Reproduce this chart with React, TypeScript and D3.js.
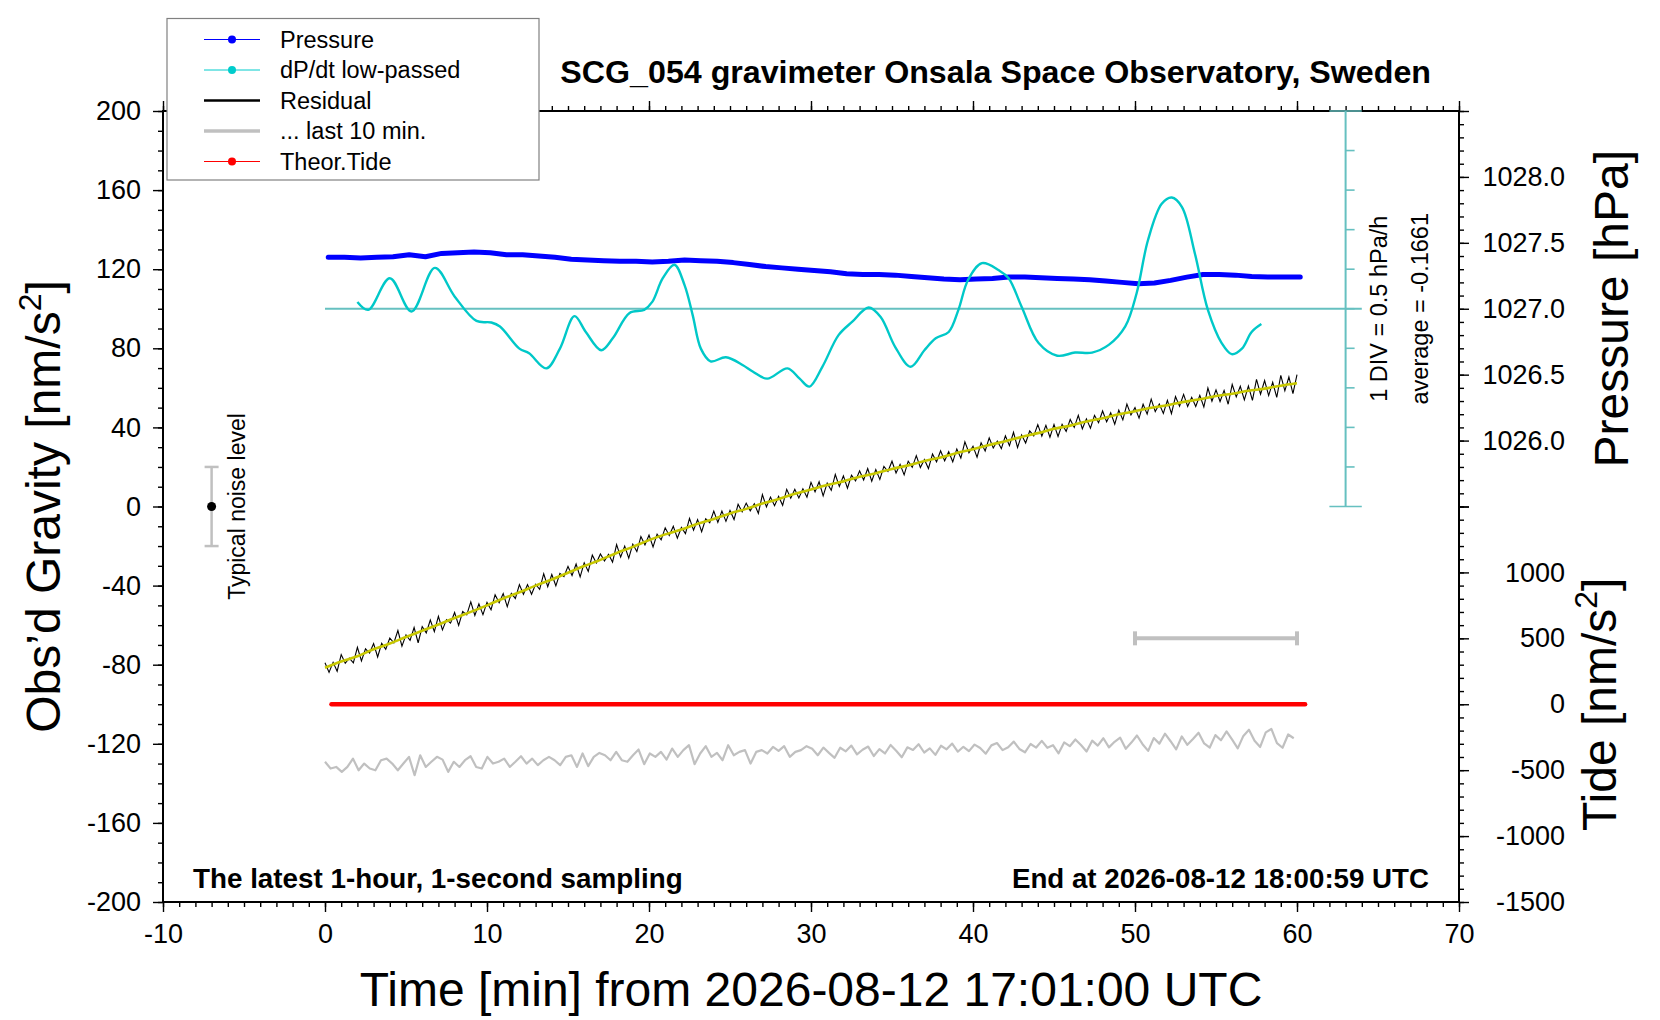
import { useEffect, useRef } from "react";
import * as d3 from "d3";

const FONT = "'Liberation Sans', Arial, Helvetica, sans-serif";

// axis ticks
const X_MAJOR = [-10, 0, 10, 20, 30, 40, 50, 60, 70];
const G_MAJOR = [-200, -160, -120, -80, -40, 0, 40, 80, 120, 160, 200];
const P_MAJOR = [1025.5, 1026.0, 1026.5, 1027.0, 1027.5, 1028.0, 1028.5];
const P_LABELS = [1026.0, 1026.5, 1027.0, 1027.5, 1028.0];
const TIDE_MAJOR = [-1500, -1000, -500, 0, 500, 1000, 1500];
const TIDE_LABELS = [-1500, -1000, -500, 0, 500, 1000];
const DPDT_AVG = -0.1661;

// pressure [hPa], one value per minute
const PRESSURE = [
  1027.39, 1027.39, 1027.385, 1027.39, 1027.395, 1027.41, 1027.395, 1027.42, 1027.425, 1027.43,
  1027.425, 1027.41, 1027.41, 1027.4, 1027.39, 1027.375, 1027.37, 1027.365, 1027.36, 1027.36,
  1027.355, 1027.36, 1027.37, 1027.365, 1027.36, 1027.35, 1027.335, 1027.32, 1027.31, 1027.3,
  1027.29, 1027.28, 1027.265, 1027.26, 1027.26, 1027.255, 1027.245, 1027.235, 1027.225, 1027.22,
  1027.225, 1027.23, 1027.24, 1027.24, 1027.235, 1027.23, 1027.225, 1027.22, 1027.21, 1027.2,
  1027.19, 1027.195, 1027.215, 1027.24, 1027.26, 1027.26, 1027.255, 1027.245, 1027.24, 1027.24,
  1027.24,
];

// dP/dt low-passed [hPa/h]
const DPDT_T = [
  2.0, 2.67, 4.0, 5.34, 6.78, 8.0, 9.35, 10.27, 10.8, 12.0, 12.6, 13.66, 14.5, 15.4, 16.1, 17.05,
  17.76, 18.8, 19.7, 20.2, 20.85, 21.57, 22.2, 22.7, 23.2, 23.8, 24.75, 25.8, 26.4, 27.3, 28.55,
  29.3, 29.9, 30.7, 31.7, 32.55, 33.55, 34.3, 35.2, 36.15, 37.0, 37.7, 38.5, 39.1, 39.7, 40.55,
  41.6, 42.2, 43.0, 44.05, 45.2, 46.3, 47.35, 48.4, 49.4, 50.1, 50.8, 51.65, 52.27, 52.9, 53.7,
  54.5, 55.35, 55.97, 56.6, 57.2, 57.8,
];
const DPDT = [
  -0.08, -0.18, 0.22, -0.2, 0.35, -0.01, -0.32, -0.34, -0.39, -0.67, -0.73, -0.92, -0.67, -0.26,
  -0.46, -0.69, -0.54, -0.22, -0.18, -0.08, 0.22, 0.39, 0.13, -0.25, -0.67, -0.83, -0.78, -0.88,
  -0.96, -1.05, -0.92, -1.05, -1.15, -0.9, -0.5, -0.33, -0.15, -0.27, -0.65, -0.9, -0.69, -0.54,
  -0.46, -0.18, 0.2, 0.41, 0.32, 0.22, -0.14, -0.6, -0.76, -0.72, -0.72, -0.62, -0.39, 0.03, 0.7,
  1.16, 1.24, 1.12, 0.53, -0.18, -0.6, -0.74, -0.67, -0.46, -0.36,
];

// residual gravity [nm/s^2], every 15 s
const RESIDUAL = [
  -79.0, -83.9, -78.8, -83.3, -74.9, -79.3, -76.7, -79.1, -71.2, -78.1, -72.0, -74.1,
  -69.3, -76.1, -69.2, -72.2, -66.5, -69.0, -62.7, -70.6, -64.9, -67.7, -61.2, -68.9,
  -60.7, -63.9, -57.4, -63.3, -55.5, -62.4, -57.2, -59.0, -53.6, -60.1, -53.1, -54.8,
  -48.2, -55.1, -49.2, -54.7, -48.5, -52.2, -44.6, -48.7, -44.0, -50.6, -43.9, -46.5,
  -39.5, -44.4, -39.5, -44.4, -39.3, -41.9, -34.0, -40.6, -34.4, -40.1, -33.8, -35.4,
  -30.3, -34.9, -29.1, -35.6, -28.5, -32.8, -24.6, -28.6, -24.0, -27.5, -24.2, -28.1,
  -19.3, -25.6, -20.0, -26.1, -19.0, -22.8, -15.2, -19.4, -14.5, -20.5, -14.0, -16.9,
  -10.8, -14.7, -10.0, -16.0, -10.6, -13.7, -6.0, -12.0, -6.6, -12.7, -6.2, -8.2,
  -2.3, -8.0, -2.3, -7.5, -2.0, -6.6, 1.1, -2.7, 1.7, -2.2, 1.4, -3.5,
  6.0, -0.2, 4.8, 0.4, 5.1, 0.6, 8.7, 4.2, 8.7, 4.3, 9.0, 4.7,
  12.2, 7.4, 12.5, 5.4, 11.8, 8.2, 16.2, 10.2, 15.5, 9.3, 15.8, 13.0,
  18.0, 13.4, 19.2, 12.8, 18.7, 13.7, 20.3, 17.7, 22.9, 16.9, 21.3, 16.0,
  22.9, 19.8, 25.7, 19.7, 23.8, 19.2, 26.5, 22.6, 28.2, 23.1, 27.7, 22.6,
  29.1, 24.5, 32.7, 27.2, 30.5, 24.9, 32.2, 28.1, 34.7, 29.6, 33.1, 29.3,
  35.7, 30.8, 37.5, 29.8, 36.2, 32.1, 38.2, 35.7, 41.4, 35.6, 41.0, 35.0,
  41.5, 35.4, 41.6, 38.0, 44.0, 40.0, 46.1, 39.3, 44.3, 39.6, 46.1, 42.4,
  48.3, 42.8, 47.4, 41.6, 48.7, 43.8, 51.8, 46.3, 50.0, 44.7, 51.7, 46.7,
  54.3, 48.0, 51.8, 47.1, 53.7, 47.0, 55.6, 50.7, 56.7, 50.6, 55.2, 50.6,
  56.2, 50.3, 59.9, 53.2, 59.0, 53.1, 58.7, 51.7, 61.7, 55.4, 60.8, 53.9,
  60.9, 53.7, 64.3, 56.8, 63.7, 56.1, 62.8, 55.2, 66.3, 58.5, 65.5, 57.1,
  66.7,
];

// smoothed residual (yellow), one value per minute
const SMOOTH = [
  -81.5, -78.4, -75.7, -72.2, -69.3, -66.0, -62.8, -59.7, -56.4, -53.3, -50.0, -46.5, -43.4,
  -40.0, -36.9, -33.5, -30.1, -27.0, -23.5, -20.4, -17.0, -14.1, -11.6, -8.7, -6.3, -3.5, -1.2,
  1.5, 3.8, 6.4, 8.6, 10.9, 12.7, 15.0, 16.8, 19.0, 20.8, 23.0, 24.8, 27.1, 28.9, 31.1, 33.0,
  35.2, 37.1, 39.3, 40.9, 43.0, 44.6, 46.6, 48.2, 49.9, 51.2, 52.9, 54.2, 55.9, 57.0, 58.5,
  59.6, 61.1, 62.3,
];

// last 10 minutes, stretched over the hour (gravity units)
const LAST10 = [
  -129.1, -132.5, -131.7, -134.2, -131.7, -127.5, -133.4, -130.0, -132.5, -133.4, -128.3, -127.5,
  -130.0, -133.4, -130.0, -126.6, -135.9, -125.8, -131.7, -129.1, -126.6, -128.0, -134.2, -129.1,
  -131.7, -128.3, -126.3, -131.7, -132.5, -126.6, -130.0, -129.1, -127.5, -131.7, -129.1, -126.3,
  -130.0, -127.5, -130.8, -128.3, -126.6, -128.3, -130.8, -126.6, -125.8, -131.7, -124.9, -131.3,
  -126.6, -124.6, -125.8, -128.3, -124.1, -128.3, -129.1, -125.8, -122.9, -130.3, -124.9, -126.6,
  -124.1, -128.0, -122.4, -126.6, -123.2, -120.7, -130.3, -124.9, -121.2, -126.6, -124.6, -128.3,
  -120.7, -125.8, -124.1, -123.2, -130.0, -124.1, -123.2, -124.9, -121.6, -123.6, -121.2, -126.6,
  -124.1, -123.2, -121.2,
  -122.5, -125.8, -121.9, -124.6, -127.1, -122.0, -123.8, -120.9, -125.3, -123.0, -121.4, -126.2,
  -122.7, -124.9, -120.6, -123.5, -126.8, -121.8, -123.1, -120.2, -124.4, -122.3, -125.6, -121.0,
  -122.8, -119.9, -124.0, -121.5,
  -123.7, -120.4, -122.1, -125.0, -120.8, -119.6, -123.2, -121.7, -118.9, -122.6, -124.3, -120.1,
  -121.9, -118.5, -122.0, -120.7, -124.8, -119.3, -121.2, -117.8, -120.6, -123.9, -118.4, -120.9,
  -117.2, -121.8, -119.0, -116.9, -122.5,
  -119.4, -115.8, -120.2, -123.6, -117.1, -119.9, -114.9, -118.7, -122.8, -116.3, -120.5, -117.6,
  -114.4, -119.8, -121.9, -115.6, -118.2, -113.7, -117.9, -122.3, -116.0, -112.9, -118.5, -121.6,
  -114.2, -112.5, -119.7, -122.0, -115.3, -117.2,
];

// theoretical tide [nm/s^2]
const TIDE_T = [0.4, 10, 20, 30, 40, 50, 60.5];
const TIDE = [0, 0, 0, 0, 0, 0, 0];

const LEGEND = [
  { label: "Pressure", color: "#0000ff", kind: "dot" },
  { label: "dP/dt low-passed", color: "#00cccc", kind: "dot" },
  { label: "Residual", color: "#000000", kind: "line" },
  { label: "... last 10 min.", color: "#c0c0c0", kind: "line" },
  { label: "Theor.Tide", color: "#ff0000", kind: "dot" },
];

export default function App() {
  const svgRef = useRef<SVGSVGElement>(null);

  useEffect(() => {
    if (!svgRef.current) return;
    const svg = d3.select(svgRef.current);
    svg.selectAll("*").remove();

    const L = 163, R = 1459, T = 111, B = 902;
    const M = (T + B) / 2;

    const x = d3.scaleLinear().domain([-10, 70]).range([L, R]);
    const yG = d3.scaleLinear().domain([-200, 200]).range([B, T]);
    const yP = d3.scaleLinear().domain([1025.5, 1028.5]).range([M, T]);
    const yT = d3.scaleLinear().domain([-1500, 1500]).range([B, M]);
    const yD = d3.scaleLinear().domain([DPDT_AVG - 2.5, DPDT_AVG + 2.5]).range([M, T]);

    svg.append("rect").attr("width", 1660).attr("height", 1020).attr("fill", "#fff");

    const styleAxis = (g: any, labelled: boolean) => {
      g.select(".domain").remove();
      g.selectAll(".tick line").attr("stroke", "#000").attr("stroke-width", 1.4);
      if (labelled) {
        g.selectAll(".tick text")
          .attr("fill", "#000")
          .attr("font-family", FONT)
          .attr("font-size", 27);
      }
    };

    const xMinor = d3.range(-10, 71, 1);
    const gMinor = d3.range(-200, 201, 10);
    const pMinor = d3.range(0, 31).map((i) => 1025.5 + i * 0.1);
    const tMinor = d3.range(-1500, 1501, 100);

    // bottom axis
    svg.append("g").attr("transform", `translate(0,${B})`)
      .call(d3.axisBottom(x).tickValues(xMinor).tickSize(5).tickFormat(() => ""))
      .call((g) => styleAxis(g, false));
    svg.append("g").attr("transform", `translate(0,${B})`)
      .call(d3.axisBottom(x).tickValues(X_MAJOR).tickSize(10).tickPadding(12).tickFormat((d) => `${d}`))
      .call((g) => styleAxis(g, true));

    // top axis
    svg.append("g").attr("transform", `translate(0,${T})`)
      .call(d3.axisTop(x).tickValues(xMinor).tickSize(5).tickFormat(() => ""))
      .call((g) => styleAxis(g, false));
    svg.append("g").attr("transform", `translate(0,${T})`)
      .call(d3.axisTop(x).tickValues(X_MAJOR).tickSize(10).tickFormat(() => ""))
      .call((g) => styleAxis(g, false));

    // left axis
    svg.append("g").attr("transform", `translate(${L},0)`)
      .call(d3.axisLeft(yG).tickValues(gMinor).tickSize(5).tickFormat(() => ""))
      .call((g) => styleAxis(g, false));
    svg.append("g").attr("transform", `translate(${L},0)`)
      .call(d3.axisLeft(yG).tickValues(G_MAJOR).tickSize(10).tickPadding(12).tickFormat((d) => `${d}`))
      .call((g) => styleAxis(g, true));

    // right axis: pressure (upper half) and tide (lower half)
    svg.append("g").attr("transform", `translate(${R},0)`)
      .call(d3.axisRight(yP).tickValues(pMinor).tickSize(5).tickFormat(() => ""))
      .call((g) => styleAxis(g, false));
    svg.append("g").attr("transform", `translate(${R},0)`)
      .call(d3.axisRight(yP).tickValues(P_MAJOR).tickSize(10)
        .tickFormat((d) => (P_LABELS.includes(Number(d)) ? Number(d).toFixed(1) : "")))
      .call((g) => styleAxis(g, true))
      .call((g) => g.selectAll(".tick text").attr("x", 106).attr("text-anchor", "end"));
    svg.append("g").attr("transform", `translate(${R},0)`)
      .call(d3.axisRight(yT).tickValues(tMinor).tickSize(5).tickFormat(() => ""))
      .call((g) => styleAxis(g, false));
    svg.append("g").attr("transform", `translate(${R},0)`)
      .call(d3.axisRight(yT).tickValues(TIDE_MAJOR).tickSize(10)
        .tickFormat((d) => (TIDE_LABELS.includes(Number(d)) ? `${d}` : "")))
      .call((g) => styleAxis(g, true))
      .call((g) => g.selectAll(".tick text").attr("x", 106).attr("text-anchor", "end"));

    // frame
    svg.append("rect")
      .attr("x", L).attr("y", T).attr("width", R - L).attr("height", B - T)
      .attr("fill", "none").attr("stroke", "#000").attr("stroke-width", 2);

    // dP/dt gauge
    const gaugeColor = "#66c0c0";
    const gx = x(63);
    svg.append("line")
      .attr("x1", x(0)).attr("x2", x(64)).attr("y1", yD(DPDT_AVG)).attr("y2", yD(DPDT_AVG))
      .attr("stroke", gaugeColor).attr("stroke-width", 2);
    svg.append("line")
      .attr("x1", gx).attr("x2", gx).attr("y1", yD(DPDT_AVG + 2.5)).attr("y2", yD(DPDT_AVG - 2.5))
      .attr("stroke", gaugeColor).attr("stroke-width", 2);
    d3.range(-5, 6).forEach((k) => {
      const v = DPDT_AVG + k * 0.5;
      const wide = Math.abs(k) === 5;
      svg.append("line")
        .attr("x1", wide ? x(62) : gx).attr("x2", wide ? x(64) : gx + 9)
        .attr("y1", yD(v)).attr("y2", yD(v))
        .attr("stroke", gaugeColor).attr("stroke-width", 1.6);
    });

    // pressure
    svg.append("path")
      .datum(PRESSURE)
      .attr("fill", "none").attr("stroke", "#0000ff").attr("stroke-width", 5)
      .attr("stroke-linecap", "round").attr("stroke-linejoin", "round")
      .attr("d", d3.line<number>().x((_, i) => x(0.2 + i)).y((d) => yP(d)));

    // dP/dt
    svg.append("path")
      .datum(DPDT)
      .attr("fill", "none").attr("stroke", "#00c8c8").attr("stroke-width", 2.4)
      .attr("d", d3.line<number>().x((_, i) => x(DPDT_T[i])).y((d) => yD(d)).curve(d3.curveCatmullRom));

    // residual + smoothed
    svg.append("path")
      .datum(RESIDUAL)
      .attr("fill", "none").attr("stroke", "#000").attr("stroke-width", 1.1)
      .attr("d", d3.line<number>().x((_, i) => x(i * 0.25)).y((d) => yG(d)));
    svg.append("path")
      .datum(SMOOTH)
      .attr("fill", "none").attr("stroke", "#c8c800").attr("stroke-width", 2.6)
      .attr("d", d3.line<number>().x((_, i) => x(i)).y((d) => yG(d)).curve(d3.curveMonotoneX));

    // theoretical tide
    svg.append("path")
      .datum(TIDE)
      .attr("fill", "none").attr("stroke", "#ff0000").attr("stroke-width", 4.5)
      .attr("stroke-linecap", "round")
      .attr("d", d3.line<number>().x((_, i) => x(TIDE_T[i])).y((d) => yT(d)));

    // last 10 minutes
    const step = 59.8 / (LAST10.length - 1);
    svg.append("path")
      .datum(LAST10)
      .attr("fill", "none").attr("stroke", "#c0c0c0").attr("stroke-width", 2.2)
      .attr("stroke-linejoin", "round")
      .attr("d", d3.line<number>().x((_, i) => x(i * step)).y((d) => yG(d)));

    // 10-minute span bar
    const by = yT(500);
    svg.append("line").attr("x1", x(50)).attr("x2", x(60)).attr("y1", by).attr("y2", by)
      .attr("stroke", "#c0c0c0").attr("stroke-width", 4);
    [50, 60].forEach((t) => {
      svg.append("line").attr("x1", x(t)).attr("x2", x(t)).attr("y1", by - 7).attr("y2", by + 7)
        .attr("stroke", "#c0c0c0").attr("stroke-width", 4);
    });

    // typical noise level
    const nx = x(-7);
    svg.append("line").attr("x1", nx).attr("x2", nx).attr("y1", yG(20)).attr("y2", yG(-20))
      .attr("stroke", "#c0c0c0").attr("stroke-width", 2.5);
    [20, -20].forEach((v) => {
      svg.append("line").attr("x1", nx - 7).attr("x2", nx + 7).attr("y1", yG(v)).attr("y2", yG(v))
        .attr("stroke", "#c0c0c0").attr("stroke-width", 2.5);
    });
    svg.append("circle").attr("cx", nx).attr("cy", yG(0)).attr("r", 4.5).attr("fill", "#000");
    svg.append("text")
      .attr("transform", `translate(245,${yG(0)}) rotate(-90)`)
      .attr("text-anchor", "middle").attr("font-family", FONT).attr("font-size", 23)
      .text("Typical noise level");

    // gauge texts
    svg.append("text")
      .attr("transform", `translate(1387,${yD(DPDT_AVG)}) rotate(-90)`)
      .attr("text-anchor", "middle").attr("font-family", FONT).attr("font-size", 23.5)
      .text("1 DIV = 0.5 hPa/h");
    svg.append("text")
      .attr("transform", `translate(1428,${yD(DPDT_AVG)}) rotate(-90)`)
      .attr("text-anchor", "middle").attr("font-family", FONT).attr("font-size", 23.5)
      .text(`average = ${DPDT_AVG}`);

    // titles
    svg.append("text")
      .attr("x", 1431).attr("y", 82.5).attr("text-anchor", "end")
      .attr("font-family", FONT).attr("font-size", 32.2).attr("font-weight", "bold")
      .text("SCG_054 gravimeter Onsala Space Observatory, Sweden");
    svg.append("text")
      .attr("x", 193).attr("y", 888)
      .attr("font-family", FONT).attr("font-size", 27.8).attr("font-weight", "bold")
      .text("The latest 1-hour, 1-second sampling");
    svg.append("text")
      .attr("x", 1429).attr("y", 888).attr("text-anchor", "end")
      .attr("font-family", FONT).attr("font-size", 27.7).attr("font-weight", "bold")
      .text("End at 2026-08-12 18:00:59 UTC");

    svg.append("text")
      .attr("x", (L + R) / 2).attr("y", 1006).attr("text-anchor", "middle")
      .attr("font-family", FONT).attr("font-size", 48)
      .text("Time [min] from 2026-08-12 17:01:00 UTC");

    const rotTitle = (tx: number, ty: number, main: string, sup: boolean, tail: string) => {
      const t = svg.append("text")
        .attr("transform", `translate(${tx},${ty}) rotate(-90)`)
        .attr("text-anchor", "middle").attr("font-family", FONT).attr("font-size", 48);
      t.append("tspan").text(main);
      if (sup) {
        t.append("tspan").attr("dy", -19).attr("font-size", 32).text("2");
        t.append("tspan").attr("dy", 19).text(tail);
      } else {
        t.append("tspan").text(tail);
      }
    };
    rotTitle(60, yG(0), "Obs\u2019d Gravity [nm/s", true, "]");
    rotTitle(1628, yP(1027.0), "Pressure [hPa", false, "]");
    rotTitle(1616, yT(0), "Tide [nm/s", true, "]");

    // legend
    const lg = svg.append("g");
    lg.append("rect")
      .attr("x", 167).attr("y", 18.5).attr("width", 372).attr("height", 161.5)
      .attr("fill", "#fff").attr("stroke", "#808080").attr("stroke-width", 1.2);
    LEGEND.forEach((item, i) => {
      const ly = 39.5 + i * 30.5;
      lg.append("line")
        .attr("x1", 204).attr("x2", 260).attr("y1", ly).attr("y2", ly)
        .attr("stroke", item.color)
        .attr("stroke-width", item.kind === "dot" ? 1 : item.color === "#000000" ? 2.4 : 3.4);
      if (item.kind === "dot") {
        lg.append("circle").attr("cx", 232).attr("cy", ly).attr("r", 4).attr("fill", item.color);
      }
      lg.append("text")
        .attr("x", 280).attr("y", ly).attr("dy", "0.36em")
        .attr("font-family", FONT).attr("font-size", 23.5)
        .text(item.label);
    });
  }, []);

  return (
    <div style={{ position: "absolute", left: 0, top: 0 }}>
      <svg ref={svgRef} width={1660} height={1020} style={{ display: "block" }} />
    </div>
  );
}
